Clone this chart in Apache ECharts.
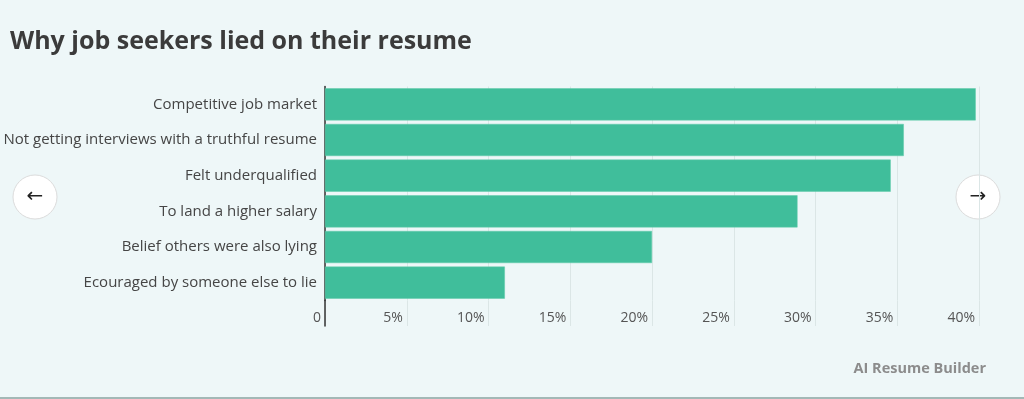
<!DOCTYPE html>
<html>
<head>
<meta charset="utf-8">
<script src="https://cdn.jsdelivr.net/npm/echarts@6/dist/echarts.min.js"></script>
<style>
    html, body { margin: 0; padding: 0; background: #eef7f8; }
    #chart { width: 1024px; height: 399px; }
</style>
</head>
<body>
<div id="chart"></div>
<script>
    // reasons, top to bottom
    var reasons = [
        'Competitive job market',
        'Not getting interviews with a truthful resume',
        'Felt underqualified',
        'To land a higher salary',
        'Belief others were also lying',
        'Ecouraged by someone else to lie'
    ];
    var shares = [39.8, 35.4, 34.6, 28.9, 20.0, 11.0];
    var tickLabels = ['0', '5%', '10%', '15%', '20%', '25%', '30%', '35%', '40%'];

    var font = '"Open Sans", sans-serif';
    var chart = echarts.init(document.getElementById('chart'));

    chart.setOption({
        backgroundColor: '#eef7f8',
        animation: false,
        title: {
            text: 'Why job seekers lied on their resume',
            left: 5,
            top: 24,
            textStyle: { fontFamily: font, fontSize: 25, fontWeight: 'bold', color: '#3b3b3b' }
        },
        grid: [
            { left: 325, right: 45, top: 86.5, height: 214 },
            { left: 325, right: 45, top: 300.5, height: 25.5 }
        ],
        xAxis: [
            {
                gridIndex: 0, type: 'value', min: 0, max: 40, interval: 5,
                axisLine: { show: false }, axisTick: { show: false }, axisLabel: { show: false },
                splitLine: { lineStyle: { color: '#dbe6e6', width: 1 } }
            },
            {
                gridIndex: 1, type: 'value', min: 0, max: 40, interval: 5,
                axisLine: { show: false }, axisTick: { show: false },
                splitLine: { lineStyle: { color: '#dbe6e6', width: 1 } },
                axisLabel: {
                    inside: true, margin: 1, align: 'right', padding: [0, 4, 0, 0],
                    fontFamily: font, fontSize: 14, color: '#555',
                    formatter: function (v) { return tickLabels[Math.round(v / 5)]; }
                }
            }
        ],
        yAxis: [
            {
                gridIndex: 0, type: 'category', inverse: true, data: reasons,
                axisLine: { lineStyle: { color: '#333', width: 1.5 } },
                axisTick: { show: false },
                axisLabel: { margin: 8, fontFamily: font, fontSize: 15, color: '#454545' }
            },
            {
                gridIndex: 1, type: 'category', data: [''],
                axisLine: { lineStyle: { color: '#333', width: 1.5 } },
                axisTick: { show: false }, axisLabel: { show: false }
            }
        ],
        series: [{
            type: 'bar',
            xAxisIndex: 0, yAxisIndex: 0,
            data: shares,
            barCategoryGap: '10%',
            itemStyle: { color: '#40be9b', borderColor: '#5fcaa9', borderWidth: 0.5 }
        }],
        graphic: [
            { type: 'circle', shape: { cx: 35, cy: 197, r: 22 },
              style: { fill: '#fff', stroke: '#dcdcdc', lineWidth: 1 } },
            { type: 'text', x: 35, y: 197,
              style: { text: '←', fontSize: 20, fontFamily: 'DejaVu Sans', fill: '#222', align: 'center', verticalAlign: 'middle' } },
            { type: 'circle', shape: { cx: 978, cy: 197, r: 22 },
              style: { fill: '#fff', stroke: '#dcdcdc', lineWidth: 1 } },
            { type: 'text', x: 978, y: 197,
              style: { text: '→', fontSize: 20, fontFamily: 'DejaVu Sans', fill: '#222', align: 'center', verticalAlign: 'middle' } },
            { type: 'text', right: 38, top: 361,
              style: { text: 'AI Resume Builder', fontSize: 14.5, fontWeight: 'bold', fontFamily: font, fill: '#8c8c8c' } },
            { type: 'rect', shape: { x: 0, y: 397, width: 1024, height: 2 },
              style: { fill: '#a3b8b6' } }
        ]
    });
</script>
</body>
</html>
